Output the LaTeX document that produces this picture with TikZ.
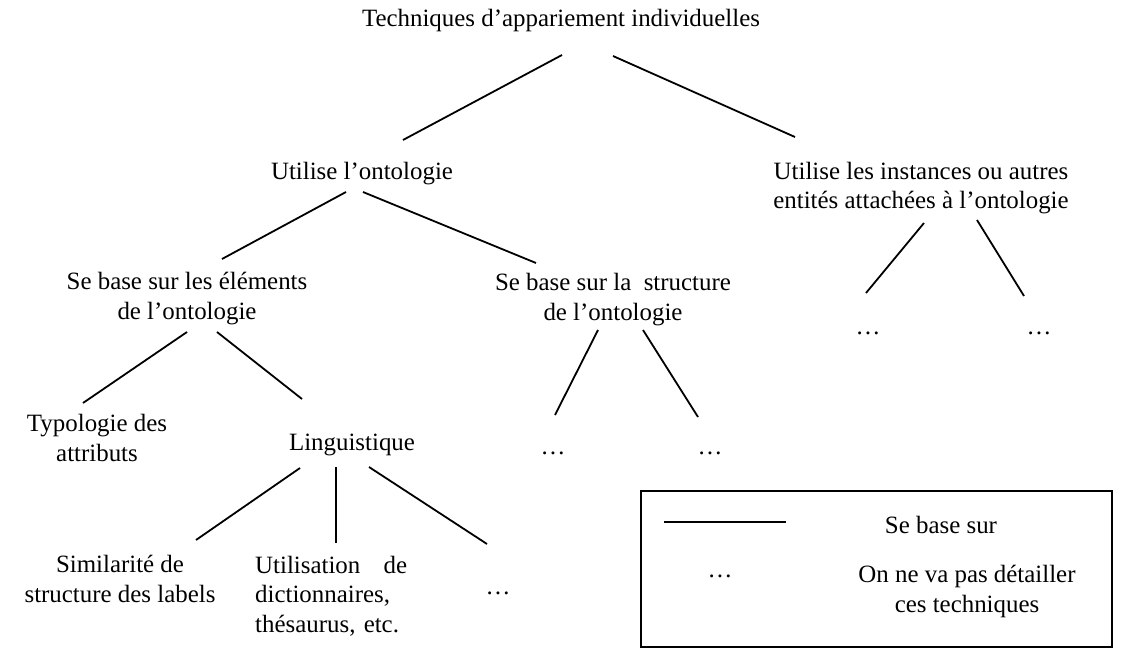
\documentclass[tikz,border=0pt]{standalone}
\usepackage{fontspec}
\setmainfont{Liberation Serif}
\begin{document}
\begin{tikzpicture}[x=1bp,y=-1bp,
  lbl/.style={font=\fontsize{24.9bp}{29.5bp}\selectfont, inner sep=0pt, anchor=base, align=center},
  link/.style={line width=1.8bp, line cap=butt}]
\useasboundingbox (0,0) rectangle (1138,658);

% labels of the tree (multi-line labels are placed by their last baseline)
\node[lbl] (root) at (561,27) {Techniques d’appariement individuelles};
\node[lbl] (onto) at (362,180) {Utilise l’ontologie};
\node[lbl] (inst) at (921,209) {Utilise les instances ou autres\\entités attachées à l’ontologie};
\node[lbl] (elem) at (187,319) {Se base sur les éléments\\de l’ontologie};
\node[lbl] (struc) at (613,320) {Se base sur la\ \ structure\\de l’ontologie};
\node[lbl] (typo) at (97,461) {Typologie des\\attributs};
\node[lbl] (ling) at (352,450) {Linguistique};
\node[lbl] (simi) at (120,602) {Similarité de\\structure des labels};
\node[lbl, anchor=base west, align=left, text width=152bp] (dico) at (255,573)
  {Utilisation\hfill de\\\mbox{dictionnaires,}\\\mbox{thésaurus, etc.}};
\node[lbl] (lingmore) at (498,594) {…};
\node[lbl] (strucA) at (553,454) {…};
\node[lbl] (strucB) at (710,454) {…};
\node[lbl] (instA) at (868,334) {…};
\node[lbl] (instB) at (1039,334) {…};

% end points of the connectors
\coordinate (root-l) at (562,55);   \coordinate (onto-t) at (403,140);
\coordinate (root-r) at (613,56);   \coordinate (inst-t) at (795,137);
\coordinate (onto-l) at (346,192);  \coordinate (elem-t) at (222,259);
\coordinate (onto-r) at (363,192);  \coordinate (struc-t) at (536,263);
\coordinate (elem-l) at (187,332);  \coordinate (typo-t) at (83,403);
\coordinate (elem-r) at (217,332);  \coordinate (ling-t) at (302,399);
\coordinate (struc-l) at (598,330); \coordinate (strucA-t) at (555,415);
\coordinate (struc-r) at (643,330); \coordinate (strucB-t) at (698,417);
\coordinate (inst-l) at (924,223);  \coordinate (instA-t) at (866,293);
\coordinate (inst-r) at (977,220);  \coordinate (instB-t) at (1024,296);
\coordinate (ling-l) at (300,468);  \coordinate (simi-t) at (196,540);
\coordinate (ling-m) at (336,467);  \coordinate (dico-t) at (336,543);
\coordinate (ling-r) at (369,467);  \coordinate (lingmore-t) at (487,544);

\draw[link] (root-l) -- (onto-t);
\draw[link] (root-r) -- (inst-t);
\draw[link] (onto-l) -- (elem-t);
\draw[link] (onto-r) -- (struc-t);
\draw[link] (elem-l) -- (typo-t);
\draw[link] (elem-r) -- (ling-t);
\draw[link] (struc-l) -- (strucA-t);
\draw[link] (struc-r) -- (strucB-t);
\draw[link] (inst-l) -- (instA-t);
\draw[link] (inst-r) -- (instB-t);
\draw[link] (ling-l) -- (simi-t);
\draw[link] (ling-m) -- (dico-t);
\draw[link] (ling-r) -- (lingmore-t);

% legend
\node[draw, line width=1.8bp, minimum width=471bp, minimum height=156bp, inner sep=0pt, anchor=north west] (legend) at (640,490) {};
\coordinate (key-a) at (664,522);
\coordinate (key-b) at (786,522);
\draw[link] (key-a) -- (key-b);
\node[lbl] (key-base) at (941,533) {Se base sur};
\node[lbl] (key-dots) at (720,577) {…};
\node[lbl] (key-skip) at (967,612) {On ne va pas détailler\\ces techniques};
\end{tikzpicture}
\end{document}
